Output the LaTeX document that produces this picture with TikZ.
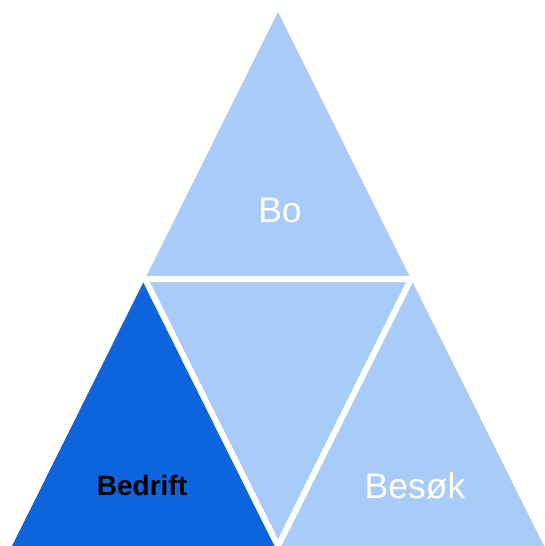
\documentclass[tikz,border=0pt]{standalone}
\usepackage{fontspec}
\setmainfont{Liberation Sans}
\definecolor{lightblue}{RGB}{169,203,247}
\definecolor{darkblue}{RGB}{13,101,221}
\begin{document}
\begin{tikzpicture}[x=1pt,y=-1pt,
  lbl/.style={font=\fontsize{35.5}{40}\selectfont, text=white, inner sep=0pt, anchor=center},
  lblb/.style={font=\fontsize{28}{32}\selectfont\bfseries, text=black, inner sep=0pt, anchor=center}]
\useasboundingbox (0,0) rectangle (544,546);
\clip (0,0) rectangle (544,546);
\coordinate (T) at (278,12);
\coordinate (BL) at (12,546);
\coordinate (BR) at (544,546);
\coordinate (ML) at (145,279);
\coordinate (MR) at (411,279);
\coordinate (MB) at (278,546);
\fill[lightblue] (T) -- (ML) -- (MR) -- cycle;
\fill[lightblue] (ML) -- (MR) -- (MB) -- cycle;
\fill[lightblue] (MR) -- (MB) -- (BR) -- cycle;
\fill[darkblue] (ML) -- (BL) -- (MB) -- cycle;
\draw[white, line width=6pt] (ML) -- (MR) -- (MB) -- cycle;
\node[lbl] (bo) at (280,210) {Bo};
\node[lblb] (bedrift) at (142,485) {Bedrift};
\node[lbl] (besok) at (415,486) {Besøk};
\end{tikzpicture}
\end{document}
